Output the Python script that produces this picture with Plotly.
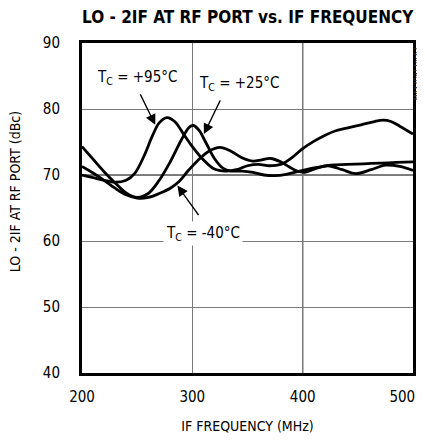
import plotly.graph_objects as go

# ---- data ----
x_p95 = [200, 210, 220, 230, 240, 248, 256, 264, 270, 277, 284, 292, 300, 310, 320, 330, 340, 350, 360, 370, 380, 390, 400, 410, 420, 430, 440, 453, 465, 473, 480, 488, 500]
y_p95 = [70.0, 69.6, 69.2, 68.9, 69.2, 70.3, 72.8, 76.0, 77.9, 78.7, 78.1, 76.2, 74.3, 72.3, 70.9, 70.6, 70.8, 71.4, 71.6, 71.4, 71.6, 72.6, 74.0, 75.1, 76.0, 76.7, 77.1, 77.6, 78.1, 78.3, 78.1, 77.4, 76.2]

x_p25 = [200, 210, 220, 230, 240, 250, 260, 270, 280, 290, 297, 301, 306, 312, 320, 328, 335, 345, 355, 365, 375, 385, 395, 405, 415, 425, 440, 455, 470, 485, 500]
y_p25 = [74.3, 72.4, 70.5, 68.8, 67.3, 66.6, 67.2, 69.2, 72.0, 75.3, 77.2, 77.5, 76.8, 75.0, 72.5, 71.0, 70.6, 70.6, 70.4, 70.0, 69.9, 70.1, 70.5, 70.9, 71.2, 71.5, 71.6, 71.7, 71.8, 71.9, 72.0]

x_m40 = [200, 210, 220, 230, 240, 250, 260, 270, 280, 288, 296, 305, 315, 325, 335, 345, 355, 363, 371, 380, 388, 395, 402, 412, 423, 436, 448, 462, 475, 488, 500]
y_m40 = [71.3, 70.3, 69.2, 68.0, 67.0, 66.5, 66.6, 67.2, 68.0, 69.0, 70.6, 72.2, 73.6, 74.2, 73.6, 72.6, 72.1, 72.3, 72.5, 72.0, 71.2, 70.6, 70.4, 71.0, 71.4, 70.8, 70.2, 70.8, 71.5, 71.3, 70.7]

x_ticks = [200, 300, 400, 500]
x_tick_labels = ["200", "300", "400", "500"]
y_ticks = [40, 50, 60, 70, 80, 90]
y_tick_labels = ["40", "50", "60", "70", "80", "90"]
dark_x = [400]
dark_y = [70]

FONT = "DejaVu Sans Condensed, Roboto, sans-serif"

# keep the last x label inside the visible page edge
x_text = x_tick_labels[:-1] + [x_tick_labels[-1] + "\u00a0" * 5]

fig = go.Figure()
for xs, ys in [(x_p95, y_p95), (x_p25, y_p25), (x_m40, y_m40)]:
    fig.add_trace(go.Scatter(x=xs, y=ys, mode="lines",
                             line=dict(color="black", width=2.8, shape="spline", smoothing=1.0),
                             showlegend=False, hoverinfo="skip", cliponaxis=True))

# darker grid lines
for xv in dark_x:
    fig.add_shape(type="line", xref="x", yref="paper", x0=xv, x1=xv, y0=0, y1=1,
                  line=dict(color="black", width=1.2), layer="below")
for yv in dark_y:
    fig.add_shape(type="line", xref="paper", yref="y", x0=0, x1=1, y0=yv, y1=yv,
                  line=dict(color="black", width=1.2), layer="below")

lab_font = dict(family=FONT, size=15, color="black")
fig.add_annotation(x=250, y=84.8, xref="x", yref="y", text="T<sub>C</sub> = +95°C",
                   showarrow=False, font=lab_font)
fig.add_annotation(x=342, y=83.9, xref="x", yref="y", text="T<sub>C</sub> = +25°C",
                   showarrow=False, font=lab_font)
fig.add_annotation(x=310, y=61.1, xref="x", yref="y", text="T<sub>C</sub> = -40°C",
                   showarrow=False, font=lab_font, bgcolor="white", borderpad=2)

# arrows
for tip_x, tip_y, tail_x, tail_y in [(266.4, 77.6, 249.7, 83.3),
                                     (310.5, 76.2, 328.5, 82.4),
                                     (286.5, 68.4, 308.8, 63.2)]:
    fig.add_annotation(x=tip_x, y=tip_y, ax=tail_x, ay=tail_y, xref="x", yref="y",
                       axref="x", ayref="y", text=" ", showarrow=True, arrowhead=2,
                       arrowsize=1.6, arrowwidth=1.3, arrowcolor="black", standoff=0,
                       startstandoff=0)

# title
fig.add_annotation(x=0.5, y=1.0, xref="paper", yref="paper",
                   text="<b>LO - 2IF AT RF PORT vs. IF FREQUENCY</b>",
                   showarrow=False, yanchor="bottom", xanchor="center", yshift=14,
                   font=dict(family=FONT, size=17, color="black"))
# y title
fig.add_annotation(x=-0.2, y=0.55, xref="paper", yref="paper", text="LO - 2IF AT RF PORT (dBc)",
                   textangle=-90, showarrow=False, xanchor="center", yanchor="middle",
                   font=dict(family=FONT, size=14, color="black"))
# side note
fig.add_annotation(x=1.0, y=1.0, xref="paper", yref="paper", xshift=3, yshift=-3, text="MAX2091 toc62",
                   textangle=-90, showarrow=False, xanchor="center", yanchor="top",
                   font=dict(family=FONT, size=7.5, color="#333333"))

fig.update_layout(
    width=417, height=428,
    margin=dict(l=74, r=12, t=35, b=63, autoexpand=False),
    paper_bgcolor="white", plot_bgcolor="white",
    font=dict(family=FONT, size=15, color="black"),
    xaxis=dict(range=[200, 500], tickvals=x_ticks, ticktext=x_text,
               showgrid=True, gridcolor="#7a7a7a", gridwidth=1, zeroline=False,
               ticks="", ticklabelstandoff=8, automargin=False, ticklabeloverflow="allow",
               showline=True, mirror=True, linecolor="black", linewidth=3,
               title=dict(text="IF FREQUENCY (MHz)", font=dict(family=FONT, size=14), standoff=17),
               tickfont=dict(family=FONT, size=15)),
    yaxis=dict(range=[40, 90], tickvals=y_ticks, ticktext=y_tick_labels,
               showgrid=True, gridcolor="#7a7a7a", gridwidth=1, zeroline=False,
               ticks="", ticklabelstandoff=16, automargin=False, ticklabeloverflow="allow",
               showline=True, mirror=True, linecolor="black", linewidth=3,
               tickfont=dict(family=FONT, size=15)),
)

fig.write_html("out.html")
